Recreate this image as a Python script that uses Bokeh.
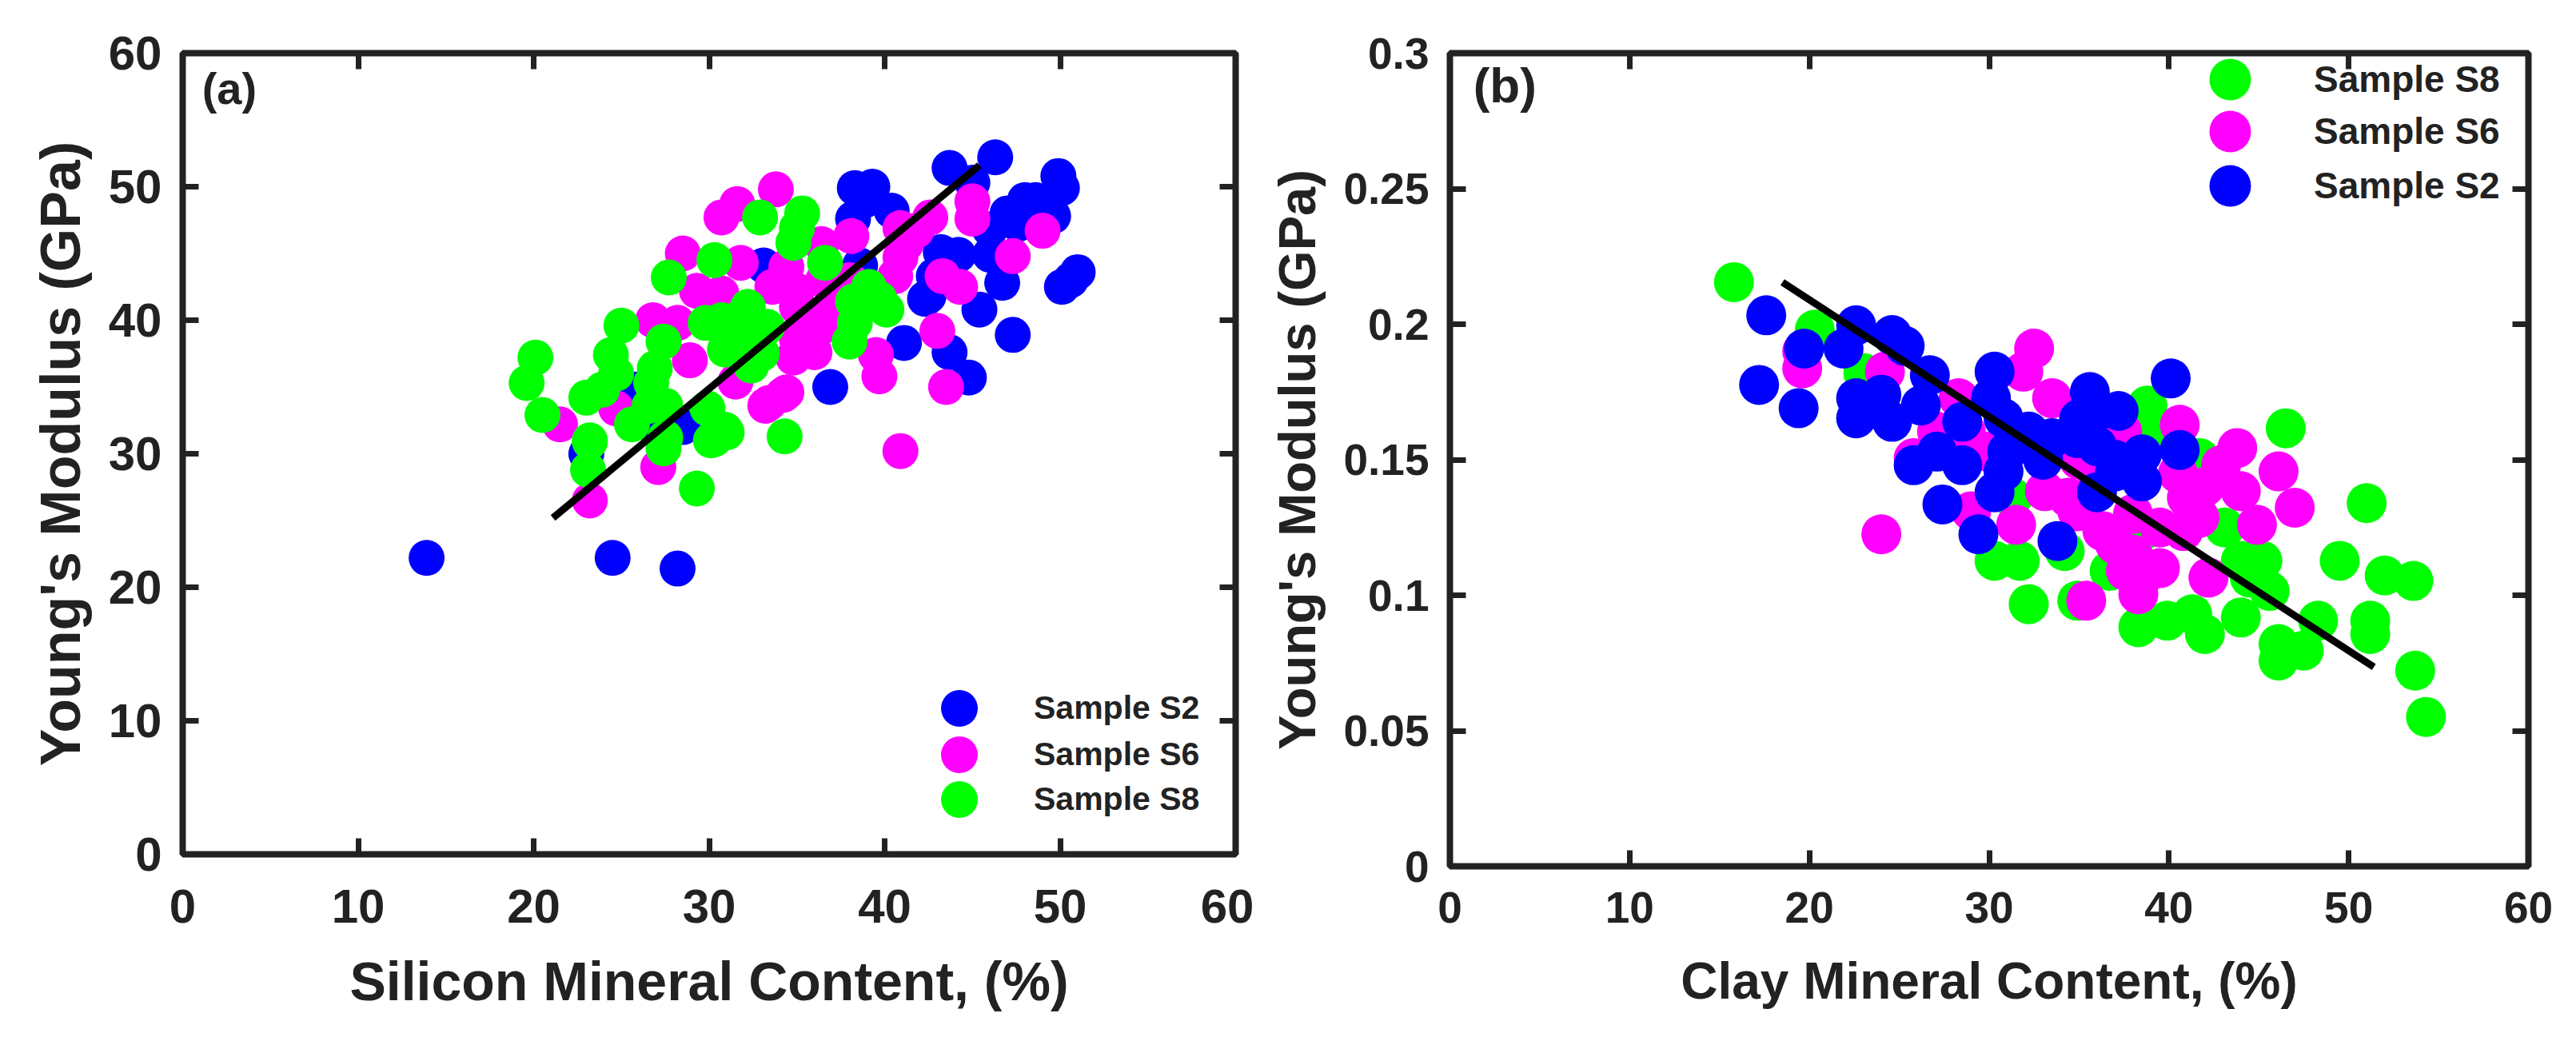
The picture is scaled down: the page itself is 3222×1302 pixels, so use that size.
from bokeh.plotting import figure
from bokeh.layouts import row
from bokeh.models import LinearAxis, FixedTicker, Label, Legend, LegendItem, Range1d
from bokeh.embed import file_html
from bokeh.resources import INLINE

BLUE = "#0000ff"; MAGENTA = "#ff00ff"; GREEN = "#00ff00"; INK = "#222222"
FONT = "Liberation Sans"

# Panel (a)
a_s2_x = [13.9,24.5,28.2,28.5,26.9,25.8,23.0,46.3,43.7,45.0,38.3,39.3,40.4,38.2,49.9,50.1,48.0,47.0,49.6,46.0,46.0,46.7,45.4,47.3,50.1,51.0,50.6,43.2,44.2,42.8,42.5,42.3,41.1,43.7,44.8,36.9,35.9,33.1,38.6,48.6,47.6,38.9]
a_s2_y = [22.2,22.2,21.4,32.0,32.0,34.8,30.0,52.2,51.4,50.3,49.9,50.0,48.2,47.6,50.8,49.9,49.0,48.0,47.8,46.8,44.9,42.8,40.8,38.9,42.5,43.6,43.0,45.1,44.9,43.3,41.8,41.6,38.3,37.6,35.7,35.0,39.5,44.1,44.1,49.0,47.2,49.0]
a_s6_x = [33.8,31.6,30.7,45.0,45.0,49.0,47.3,38.1,36.4,42.6,41.8,40.9,40.9,40.6,41.2,43.3,44.3,43.0,43.5,39.7,39.5,40.9,36.0,34.8,34.4,33.2,36.4,35.0,28.5,29.3,30.7,26.8,28.2,28.9,31.8,34.4,35.0,33.6,36.0,33.4,34.2,31.5,21.5,24.7,23.2,27.1,35.0,37.0,38.0,36.5]
a_s6_y = [49.8,48.7,47.7,48.9,47.6,46.7,44.8,46.3,45.7,47.7,46.7,46.9,44.7,43.3,45.7,43.3,42.5,39.2,35.0,35.8,37.4,30.2,37.6,37.2,34.6,33.6,39.5,38.6,45.0,42.2,42.0,40.0,39.8,37.0,44.3,44.0,42.2,42.5,39.0,33.8,34.4,35.4,32.2,33.4,26.5,29.0,41.0,41.0,43.0,43.0]
a_s8_x = [32.9,35.3,34.8,35.0,36.6,30.3,27.7,25.0,24.4,24.7,20.1,19.6,20.5,23.0,23.9,23.2,27.4,26.9,26.7,26.6,25.6,27.5,30.7,29.8,32.2,33.3,30.9,32.4,31.5,29.9,30.9,30.1,34.3,39.1,38.2,40.1,38.0,38.3,39.7,29.3,23.1,23.2,27.4,27.5,30.3,31.0,31.5,31.0,32.5,33.0]
a_s8_y = [47.7,48.0,45.8,46.9,44.3,44.5,43.2,39.6,37.4,36.0,37.2,35.3,32.9,34.2,34.8,31.0,38.4,36.4,35.3,33.6,32.2,31.2,40.0,39.8,41.0,39.5,37.8,36.6,38.6,33.4,31.8,31.0,31.3,42.5,41.4,40.8,38.4,39.8,41.6,27.4,28.8,30.9,30.4,33.6,31.1,31.6,40.0,39.2,38.5,37.5]
a_fit_x = [21.1,45.4]
a_fit_y = [25.2,51.6]
a_ticks_x = [0,10,20,30,40,50,60]
a_ticks_y = [0,10,20,30,40,50,60]

# Panel (b)
b_s8_x = [15.8,20.3,46.5,51.0,49.5,52.0,53.6,51.2,51.2,53.7,54.3,48.3,47.5,46.1,46.1,44.0,42.0,41.3,39.9,38.3,45.2,44.0,45.6,44.5,43.1,32.2,34.9,30.3,31.7,38.8,38.8,41.7,38.5,36.7,34.2,23.0,31.3,41.3]
b_s8_y = [.2155,.198,.1616,.134,.1127,.1073,.1053,.0857,.0906,.0722,.0551,.0906,.0796,.0759,.082,.0918,.0857,.093,.0906,.0882,.1127,.1127,.1016,.1065,.125,.0967,.098,.1127,.1127,.170,.1604,.1506,.1237,.109,.1163,.182,.136,.143]
b_s6_x = [24.0,19.6,19.6,24.2,32.5,31.9,33.5,40.6,43.8,42.9,46.1,47.0,44.9,44.0,41.0,40.8,41.7,42.2,38.3,39.5,37.6,38.5,35.4,36.3,34.9,37.0,33.1,34.4,31.5,29.0,28.7,25.8,27.1,28.3,29.9,37.4,36.7,38.0,39.5,40.5,42.0,36.0,38.0,35.0]
b_s6_y = [.1225,.1837,.19,.1825,.191,.1825,.1727,.1629,.1543,.148,.1457,.1323,.126,.1384,.136,.1237,.1286,.1065,.1004,.11,.109,.1065,.098,.1237,.131,.1188,.1384,.136,.126,.131,.1604,.1506,.1604,.1727,.153,.1604,.1457,.13,.125,.145,.14,.145,.115,.15]
b_s2_x = [17.6,19.7,21.9,22.6,24.6,25.3,26.7,17.2,19.4,22.6,24.0,22.6,24.6,26.2,25.8,27.4,27.1,28.5,28.5,30.3,30.1,30.8,31.0,30.3,29.4,33.8,30.8,33.5,32.2,34.9,35.6,37.2,35.6,40.1,40.6,38.5,38.5,37.0,36.0,36.0,37.0,33.0,35.0]
b_s2_y = [.2033,.191,.191,.1996,.196,.192,.1812,.1776,.169,.1727,.174,.1653,.164,.170,.148,.1335,.153,.148,.164,.1825,.1727,.1653,.153,.138,.1225,.12,.1457,.158,.1604,.158,.175,.168,.1653,.18,.1536,.152,.142,.1457,.138,.155,.15,.15,.165]
b_fit_x = [18.5,51.4]
b_fit_y = [.2155,.0735]
b_ticks_x = [0,10,20,30,40,50,60]
b_ticks_y = [0,.05,.1,.15,.2,.25,.3]
b_labels_y = ["0","0.05","0.1","0.15","0.2","0.25","0.3"]


def panel(width, left, right, top, bottom, fw, fh, xend, yend, xt, yt, ylabels,
          xlabel, tick_font, xtitle_font, ytitle_font, xstd, ystd, xlab_std, ylab_std):
    p = figure(width=width, height=1288, frame_width=fw, frame_height=fh,
               x_range=Range1d(0, xend), y_range=Range1d(0, yend),
               output_backend="svg", toolbar_location=None,
               min_border_left=left, min_border_right=right,
               min_border_top=top, min_border_bottom=bottom,
               x_axis_label=xlabel, y_axis_label="Young's Modulus (GPa)")
    p.grid.visible = False
    p.outline_line_color = INK
    p.outline_line_width = 8
    p.background_fill_color = "white"
    xa = p.below[0]
    ya = p.left[0]
    xa.ticker = FixedTicker(ticks=xt)
    ya.ticker = FixedTicker(ticks=yt)
    ya.major_label_overrides = {t: s for t, s in zip(yt, ylabels)}
    xa.major_label_standoff = xstd
    ya.major_label_standoff = ystd
    xa.axis_label_standoff = xlab_std
    ya.axis_label_standoff = ylab_std
    extra_r = LinearAxis(ticker=FixedTicker(ticks=yt), major_label_overrides={t: "" for t in yt})
    extra_t = LinearAxis(ticker=FixedTicker(ticks=xt), major_label_overrides={t: "" for t in xt})
    p.add_layout(extra_r, "right")
    p.add_layout(extra_t, "above")
    for ax in (xa, ya, extra_r, extra_t):
        ax.axis_line_color = None
        ax.major_tick_line_color = INK
        ax.major_tick_line_width = 7
        ax.major_tick_in = 20
        ax.major_tick_out = 0
        ax.minor_tick_line_color = None
        ax.major_label_text_font = FONT
        ax.major_label_text_font_style = "bold"
        ax.major_label_text_font_size = f"{tick_font}px"
        ax.major_label_text_color = INK
        ax.axis_label_text_font = FONT
        ax.axis_label_text_font_style = "bold"
        ax.axis_label_text_color = INK
    xa.axis_label_text_font_size = f"{xtitle_font}px"
    ya.axis_label_text_font_size = f"{ytitle_font}px"
    return p


def add_legend(p, rs, names, x, centers, size, standoff, font):
    box = int(size / 0.4)
    for n, r, c in zip(names, rs, centers):
        p.add_layout(Legend(items=[LegendItem(label=n, renderers=[r])],
                            location=(x, c - box // 2), glyph_width=box, glyph_height=box,
                            padding=0, margin=0, label_standoff=standoff,
                            background_fill_alpha=0, border_line_color=None,
                            label_text_font=FONT, label_text_font_style="bold",
                            label_text_font_size=f"{font}px", label_text_color=INK))


# ---- left
p1 = panel(1568, 228, 23, 66, 220, 1317, 1002, 60, 60, a_ticks_x, a_ticks_y,
           [str(t) for t in a_ticks_y], "Silicon Mineral Content, (%)", 60, 68, 70, 44, 26, 32, 18)
S1 = 45
r1 = p1.scatter(a_s2_x, a_s2_y, size=S1, marker="circle", color=BLUE, line_color=None)
r2 = p1.scatter(a_s6_x, a_s6_y, size=S1, marker="circle", color=MAGENTA, line_color=None)
r3 = p1.scatter(a_s8_x, a_s8_y, size=S1, marker="circle", color=GREEN, line_color=None)
p1.line(a_fit_x, a_fit_y, line_color="black", line_width=9)
p1.add_layout(Label(x=1.1, y=55.5, text="(a)", text_font=FONT, text_font_style="bold",
                    text_font_size="56px", text_color=INK))
add_legend(p1, [r1, r2, r3], ["Sample S2", "Sample S6", "Sample S8"], 914, [182, 124, 68], 46, 36, 41)

# ---- right
p2 = panel(1646, 245, 52, 56, 215, 1349, 1017, 60, 0.3, b_ticks_x, b_ticks_y,
           b_labels_y, "Clay Mineral Content, (%)", 55, 64, 65, 32, 26, 34, 18)
S2 = 50
q3 = p2.scatter(b_s8_x, b_s8_y, size=S2, marker="circle", color=GREEN, line_color=None)
q2 = p2.scatter(b_s6_x, b_s6_y, size=S2, marker="circle", color=MAGENTA, line_color=None)
q1 = p2.scatter(b_s2_x, b_s2_y, size=S2, marker="circle", color=BLUE, line_color=None)
p2.line(b_fit_x, b_fit_y, line_color="black", line_width=9)
p2.add_layout(Label(x=1.3, y=0.278, text="(b)", text_font=FONT, text_font_style="bold",
                    text_font_size="62px", text_color=INK))
add_legend(p2, [q3, q2, q1], ["Sample S8", "Sample S6", "Sample S2"], 911, [984, 919, 851], 52, 40, 46)

open("out.html", "w").write(file_html(row(p1, p2, spacing=0), INLINE))
